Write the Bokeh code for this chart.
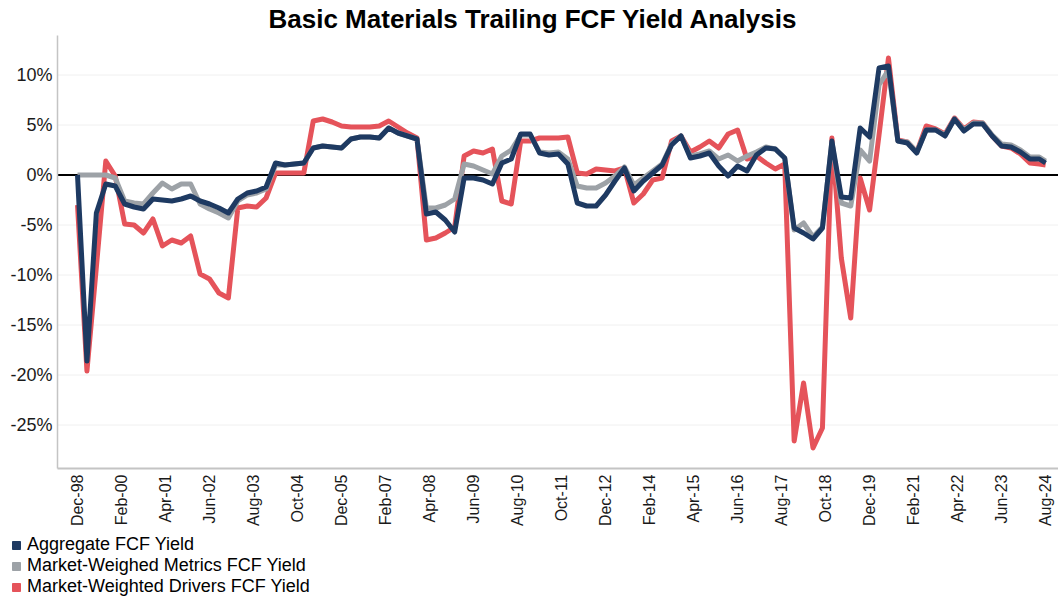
import math
from bokeh.plotting import figure
from bokeh.models import ColumnDataSource, FixedTicker, Legend, LegendItem, Range1d, Label
from bokeh.embed import file_html
from bokeh.resources import INLINE

# month offsets from Dec-98 (roughly quarterly samples, last = Aug-24)
months = list(range(0, 307, 3)) + [308]

aggregate = [
    0.0, -18.6, -3.8, -0.9, -1.1, -2.9, -3.2, -3.4, -2.4, -2.5,
    -2.6, -2.4, -2.1, -2.6, -2.9, -3.3, -3.8, -2.4, -1.8, -1.6,
    -1.2, 1.2, 1.0, 1.1, 1.2, 2.7, 2.9, 2.8, 2.7, 3.6,
    3.8, 3.8, 3.7, 4.7, 4.2, 3.9, 3.6, -3.9, -3.7, -4.5,
    -5.7, -0.3, -0.3, -0.5, -0.9, 1.2, 1.6, 4.1, 4.1, 2.2,
    2.0, 2.1, 1.1, -2.8, -3.1, -3.1, -2.0, -0.6, 0.7, -1.6,
    -0.6, 0.2, 1.0, 3.0, 3.9, 1.7, 1.9, 2.2, 0.9, -0.1,
    0.9, 0.4, 2.0, 2.7, 2.6, 1.7, -5.3, -5.8, -6.4, -5.3,
    3.4, -2.2, -2.3, 4.7, 3.8, 10.7, 10.9, 3.4, 3.2, 2.2,
    4.5, 4.5, 3.9, 5.6, 4.4, 5.1, 5.1, 3.9, 2.9, 2.8,
    2.3, 1.6, 1.6, 1.2,
]

metrics = [
    0.0, 0.0, 0.0, 0.0, -0.3, -2.6, -2.8, -2.9, -1.8, -0.8,
    -1.4, -0.9, -0.9, -2.9, -3.4, -3.8, -4.3, -2.6, -2.0, -1.8,
    -1.4, 1.0, 1.0, 1.1, 1.2, 2.7, 2.9, 2.8, 2.7, 3.6,
    3.8, 3.8, 3.7, 4.7, 4.2, 3.9, 3.6, -3.3, -3.3, -3.0,
    -2.4, 1.1, 0.9, 0.5, 0.1, 1.9, 2.5, 4.0, 4.0, 2.3,
    2.2, 2.3, 1.6, -1.1, -1.3, -1.3, -0.8, -0.1, 0.8, -1.0,
    -0.3, 0.4, 1.1, 3.1, 3.9, 1.9, 2.1, 2.4, 1.6, 2.0,
    1.4, 1.9, 2.3, 2.8, 2.6, 1.7, -5.5, -4.8, -6.2, -5.2,
    3.3, -2.8, -3.1, 2.5, 1.4, 9.0, 10.5, 3.4, 3.3, 2.3,
    4.5, 4.5, 4.0, 5.6, 4.5, 5.2, 5.2, 4.0, 3.1, 3.0,
    2.5, 1.8, 1.8, 1.4,
]

drivers = [
    -3.0, -19.6, -9.2, 1.4, -0.1, -4.9, -5.0, -5.8, -4.4, -7.1,
    -6.5, -6.8, -6.1, -9.9, -10.4, -11.8, -12.3, -3.3, -3.1, -3.2,
    -2.3, 0.2, 0.2, 0.2, 0.2, 5.4, 5.6, 5.3, 4.9, 4.8,
    4.8, 4.8, 4.9, 5.4, 4.8, 4.2, 3.7, -6.5, -6.3, -5.8,
    -5.2, 1.9, 2.4, 2.2, 2.6, -2.6, -2.9, 3.4, 3.4, 3.7,
    3.7, 3.7, 3.8, 0.2, 0.1, 0.6, 0.5, 0.4, 0.7, -2.8,
    -1.9, -0.5, -0.3, 3.4, 3.9, 2.3, 2.8, 3.4, 2.7, 4.1,
    4.5, 1.6, 1.9, 1.2, 0.6, 1.1, -26.6, -20.8, -27.3, -25.3,
    3.7, -8.3, -14.3, -0.3, -3.5, 4.0, 11.7, 3.5, 3.3, 2.3,
    4.9, 4.6, 4.1, 5.7, 4.6, 5.3, 5.2, 3.9, 2.9, 2.7,
    2.1, 1.2, 1.1, 1.0,
]

tick_months = list(range(0, 309, 14))
tick_labels = ["Dec-98", "Feb-00", "Apr-01", "Jun-02", "Aug-03", "Oct-04", "Dec-05",
               "Feb-07", "Apr-08", "Jun-09", "Aug-10", "Oct-11", "Dec-12", "Feb-14",
               "Apr-15", "Jun-16", "Aug-17", "Oct-18", "Dec-19", "Feb-21", "Apr-22",
               "Jun-23", "Aug-24"]
y_ticks = [10, 5, 0, -5, -10, -15, -20, -25]

title_text = "Basic Materials Trailing FCF Yield Analysis"
series_names = ["Aggregate FCF Yield", "Market-Weighed Metrics FCF Yield",
                "Market-Weighted Drivers FCF Yield"]
BLUE = "#1e3a62"
GRAY = "#9da2a7"
RED = "#e5535a"
FONT = "Liberation Sans"

# plotting-area limits (data units); the frame spans the whole canvas so that
# the title and the legend under the axis labels can be placed freely
X0, X1 = -6.36, 312.1
Y0, Y1 = -29.35, 13.95

source = ColumnDataSource(dict(m=months, agg=aggregate, met=metrics, drv=drivers))

p = figure(width=1058, height=596, output_backend="svg", toolbar_location=None,
           x_range=Range1d(-24.5, X1), y_range=Range1d(-42.15, 17.45),
           min_border_left=0, min_border_right=0, min_border_top=0,
           min_border_bottom=0)

p.outline_line_color = None
p.background_fill_color = "white"
p.border_fill_color = "white"
p.grid.grid_line_color = None

# faint horizontal grid lines, limited to the plotting area
grid_src = ColumnDataSource(dict(y=y_ticks, x0=[X0] * len(y_ticks), x1=[X1] * len(y_ticks)))
p.segment(x0="x0", x1="x1", y0="y", y1="y", source=grid_src,
          line_color="#f0f0f0", line_width=1)

# x axis
p.xaxis.fixed_location = Y0
p.xaxis.bounds = (X0, X1)
p.xaxis.ticker = FixedTicker(ticks=tick_months)
p.xaxis.major_label_overrides = {m: lab for m, lab in zip(tick_months, tick_labels)}
p.xaxis.major_label_orientation = math.pi / 2
p.xaxis.major_label_text_font = FONT
p.xaxis.major_label_text_font_size = "16px"
p.xaxis.major_label_text_color = "#1a1a1a"
p.xaxis.major_label_standoff = 6
p.xaxis.major_tick_out = 0
p.xaxis.major_tick_in = 0
p.xaxis.axis_line_color = "#c4c4c4"
p.xaxis.axis_line_width = 2
p.xaxis.major_tick_line_color = None
p.xaxis.minor_tick_line_color = None

# y axis
p.yaxis.fixed_location = X0
p.yaxis.bounds = (Y0, Y1)
p.yaxis.ticker = FixedTicker(ticks=y_ticks)
p.yaxis.major_label_overrides = {t: f"{t}%" for t in y_ticks}
p.yaxis.major_label_text_font = FONT
p.yaxis.major_label_text_font_size = "18px"
p.yaxis.major_label_text_color = "#1a1a1a"
p.yaxis.major_label_standoff = 5
p.yaxis.major_tick_out = 0
p.yaxis.major_tick_in = 0
p.yaxis.axis_line_color = "#c4c4c4"
p.yaxis.axis_line_width = 1.5
p.yaxis.major_tick_line_color = None
p.yaxis.minor_tick_line_color = None

# zero reference line
zero_src = ColumnDataSource(dict(x0=[X0], x1=[X1], y=[0]))
p.segment(x0="x0", x1="x1", y0="y", y1="y", source=zero_src,
          line_color="black", line_width=2)

r_red = p.line("m", "drv", source=source, line_color=RED, line_width=5, line_join="round")
r_gray = p.line("m", "met", source=source, line_color=GRAY, line_width=5, line_join="round")
r_blue = p.line("m", "agg", source=source, line_color=BLUE, line_width=5, line_join="round")

# title
p.add_layout(Label(x=268, y=596 - 18, x_units="screen", y_units="screen",
                   text=title_text, text_font=FONT, text_font_size="26px",
                   text_font_style="bold", text_color="#000000",
                   text_align="left", text_baseline="middle"))

# legend key renderers (hidden; only their legend swatches are shown)
key_src = ColumnDataSource(dict(x=[0], y=[0]))
lg = []
for c in [BLUE, GRAY, RED]:
    lg.append(p.scatter("x", "y", source=key_src, marker="square", size=8,
                        fill_color=c, line_color=c, visible=False))

legend = Legend(items=[LegendItem(label=n, renderers=[r]) for n, r in zip(series_names, lg)],
                location=(6, -1), orientation="vertical",
                glyph_width=20, glyph_height=20, label_height=20,
                label_standoff=1, spacing=0, padding=0, margin=0,
                label_text_font=FONT, label_text_font_size="18px",
                label_text_color="#000000",
                border_line_color=None, background_fill_alpha=0)
p.add_layout(legend)

open("out.html", "w").write(file_html(p, INLINE))
